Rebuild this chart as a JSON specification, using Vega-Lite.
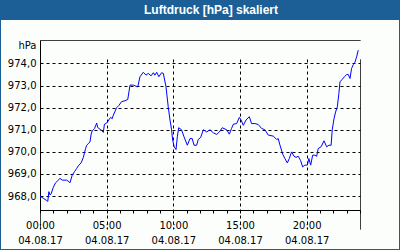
{
  "$schema": "https://vega.github.io/schema/vega-lite/v6.json",
  "width": 398,
  "height": 229,
  "autosize": "none",
  "padding": {"left": 1, "top": 20, "right": 1, "bottom": 1},
  "background": "#1c5f96",
  "title": {
    "text": "Luftdruck [hPa] skaliert",
    "color": "#ffffff",
    "font": "Liberation Sans",
    "fontSize": 12,
    "fontWeight": "bold",
    "anchor": "middle",
    "frame": "group",
    "baseline": "alphabetic",
    "offset": -6,
    "dx": 11
  },
  "config": {
    "view": {"fill": "#fcfefc", "stroke": null},
    "axis": {
      "labelFont": "DejaVu Sans",
      "labelFontSize": 10,
      "labelColor": "#000000",
      "tickColor": "#000000",
      "gridColor": "#000000",
      "gridWidth": 1,
      "domain": true,
      "domainColor": "#000000",
      "domainWidth": 1
    }
  },
  "data": {
    "values": [
      {"t": "2017-08-04T00:00", "p": 968.00},
      {"t": "2017-08-04T00:15", "p": 967.90},
      {"t": "2017-08-04T00:30", "p": 967.80},
      {"t": "2017-08-04T00:35", "p": 967.76},
      {"t": "2017-08-04T00:40", "p": 968.20},
      {"t": "2017-08-04T00:45", "p": 968.05},
      {"t": "2017-08-04T00:50", "p": 968.10},
      {"t": "2017-08-04T01:00", "p": 968.40},
      {"t": "2017-08-04T01:10", "p": 968.60},
      {"t": "2017-08-04T01:20", "p": 968.70},
      {"t": "2017-08-04T01:30", "p": 968.80},
      {"t": "2017-08-04T01:40", "p": 968.72},
      {"t": "2017-08-04T02:00", "p": 968.72},
      {"t": "2017-08-04T02:10", "p": 968.65},
      {"t": "2017-08-04T02:15", "p": 968.60},
      {"t": "2017-08-04T02:25", "p": 968.95},
      {"t": "2017-08-04T02:35", "p": 969.10},
      {"t": "2017-08-04T02:45", "p": 969.25},
      {"t": "2017-08-04T02:55", "p": 969.40},
      {"t": "2017-08-04T03:05", "p": 969.50},
      {"t": "2017-08-04T03:15", "p": 969.75},
      {"t": "2017-08-04T03:25", "p": 970.15},
      {"t": "2017-08-04T03:30", "p": 970.30},
      {"t": "2017-08-04T03:40", "p": 970.40},
      {"t": "2017-08-04T03:45", "p": 970.45},
      {"t": "2017-08-04T03:50", "p": 970.80},
      {"t": "2017-08-04T03:55", "p": 970.95},
      {"t": "2017-08-04T04:05", "p": 971.05},
      {"t": "2017-08-04T04:15", "p": 971.30},
      {"t": "2017-08-04T04:20", "p": 971.10},
      {"t": "2017-08-04T04:30", "p": 971.02},
      {"t": "2017-08-04T04:40", "p": 970.95},
      {"t": "2017-08-04T04:45", "p": 970.88},
      {"t": "2017-08-04T04:50", "p": 971.25},
      {"t": "2017-08-04T05:00", "p": 971.30},
      {"t": "2017-08-04T05:10", "p": 971.45},
      {"t": "2017-08-04T05:18", "p": 971.56},
      {"t": "2017-08-04T05:25", "p": 971.50},
      {"t": "2017-08-04T05:30", "p": 971.66},
      {"t": "2017-08-04T05:45", "p": 972.00},
      {"t": "2017-08-04T05:55", "p": 972.10},
      {"t": "2017-08-04T06:07", "p": 972.27},
      {"t": "2017-08-04T06:22", "p": 972.31},
      {"t": "2017-08-04T06:35", "p": 972.37},
      {"t": "2017-08-04T06:45", "p": 973.02},
      {"t": "2017-08-04T07:00", "p": 973.02},
      {"t": "2017-08-04T07:20", "p": 972.94},
      {"t": "2017-08-04T07:30", "p": 973.40},
      {"t": "2017-08-04T07:45", "p": 973.60},
      {"t": "2017-08-04T07:57", "p": 973.47},
      {"t": "2017-08-04T08:07", "p": 973.55},
      {"t": "2017-08-04T08:20", "p": 973.44},
      {"t": "2017-08-04T08:30", "p": 973.58},
      {"t": "2017-08-04T08:37", "p": 973.47},
      {"t": "2017-08-04T08:45", "p": 973.60},
      {"t": "2017-08-04T08:55", "p": 973.40},
      {"t": "2017-08-04T09:07", "p": 973.58},
      {"t": "2017-08-04T09:15", "p": 973.55},
      {"t": "2017-08-04T09:27", "p": 972.94},
      {"t": "2017-08-04T09:37", "p": 972.04},
      {"t": "2017-08-04T09:45", "p": 971.44},
      {"t": "2017-08-04T09:52", "p": 971.00},
      {"t": "2017-08-04T09:57", "p": 970.53},
      {"t": "2017-08-04T10:04", "p": 970.23},
      {"t": "2017-08-04T10:12", "p": 970.10},
      {"t": "2017-08-04T10:18", "p": 970.68},
      {"t": "2017-08-04T10:24", "p": 971.09},
      {"t": "2017-08-04T10:37", "p": 971.00},
      {"t": "2017-08-04T10:48", "p": 970.68},
      {"t": "2017-08-04T11:03", "p": 970.30},
      {"t": "2017-08-04T11:15", "p": 970.60},
      {"t": "2017-08-04T11:25", "p": 970.60},
      {"t": "2017-08-04T11:33", "p": 970.30},
      {"t": "2017-08-04T11:45", "p": 970.30},
      {"t": "2017-08-04T11:52", "p": 970.56},
      {"t": "2017-08-04T12:03", "p": 970.65},
      {"t": "2017-08-04T12:15", "p": 971.00},
      {"t": "2017-08-04T12:30", "p": 970.90},
      {"t": "2017-08-04T12:45", "p": 971.00},
      {"t": "2017-08-04T13:00", "p": 970.86},
      {"t": "2017-08-04T13:15", "p": 970.79},
      {"t": "2017-08-04T13:27", "p": 970.90},
      {"t": "2017-08-04T13:40", "p": 971.09},
      {"t": "2017-08-04T14:00", "p": 971.00},
      {"t": "2017-08-04T14:12", "p": 970.80},
      {"t": "2017-08-04T14:22", "p": 971.06},
      {"t": "2017-08-04T14:30", "p": 971.25},
      {"t": "2017-08-04T14:45", "p": 971.28},
      {"t": "2017-08-04T14:57", "p": 971.56},
      {"t": "2017-08-04T15:05", "p": 971.44},
      {"t": "2017-08-04T15:15", "p": 971.20},
      {"t": "2017-08-04T15:27", "p": 971.44},
      {"t": "2017-08-04T15:42", "p": 971.59},
      {"t": "2017-08-04T15:52", "p": 971.28},
      {"t": "2017-08-04T16:07", "p": 971.28},
      {"t": "2017-08-04T16:22", "p": 971.24},
      {"t": "2017-08-04T16:37", "p": 971.06},
      {"t": "2017-08-04T16:52", "p": 971.00},
      {"t": "2017-08-04T17:07", "p": 970.76},
      {"t": "2017-08-04T17:30", "p": 970.71},
      {"t": "2017-08-04T17:45", "p": 970.56},
      {"t": "2017-08-04T17:52", "p": 970.60},
      {"t": "2017-08-04T18:00", "p": 970.30},
      {"t": "2017-08-04T18:12", "p": 969.90},
      {"t": "2017-08-04T18:22", "p": 969.70},
      {"t": "2017-08-04T18:33", "p": 969.50},
      {"t": "2017-08-04T18:42", "p": 969.70},
      {"t": "2017-08-04T18:52", "p": 970.00},
      {"t": "2017-08-04T19:03", "p": 969.80},
      {"t": "2017-08-04T19:12", "p": 969.75},
      {"t": "2017-08-04T19:22", "p": 969.80},
      {"t": "2017-08-04T19:33", "p": 969.60},
      {"t": "2017-08-04T19:42", "p": 969.32},
      {"t": "2017-08-04T19:52", "p": 969.40},
      {"t": "2017-08-04T20:03", "p": 969.40},
      {"t": "2017-08-04T20:10", "p": 969.70},
      {"t": "2017-08-04T20:18", "p": 969.40},
      {"t": "2017-08-04T20:27", "p": 969.85},
      {"t": "2017-08-04T20:37", "p": 969.85},
      {"t": "2017-08-04T20:45", "p": 969.80},
      {"t": "2017-08-04T20:52", "p": 970.15},
      {"t": "2017-08-04T21:05", "p": 970.23},
      {"t": "2017-08-04T21:18", "p": 970.50},
      {"t": "2017-08-04T21:30", "p": 970.23},
      {"t": "2017-08-04T21:40", "p": 970.30},
      {"t": "2017-08-04T21:50", "p": 970.30},
      {"t": "2017-08-04T21:55", "p": 971.00},
      {"t": "2017-08-04T22:03", "p": 971.50},
      {"t": "2017-08-04T22:10", "p": 971.80},
      {"t": "2017-08-04T22:18", "p": 972.04},
      {"t": "2017-08-04T22:25", "p": 972.64},
      {"t": "2017-08-04T22:30", "p": 973.17},
      {"t": "2017-08-04T22:40", "p": 973.28},
      {"t": "2017-08-04T22:50", "p": 973.40},
      {"t": "2017-08-04T23:00", "p": 973.50},
      {"t": "2017-08-04T23:07", "p": 973.50},
      {"t": "2017-08-04T23:15", "p": 973.32},
      {"t": "2017-08-04T23:22", "p": 973.77},
      {"t": "2017-08-04T23:30", "p": 973.95},
      {"t": "2017-08-04T23:37", "p": 974.05},
      {"t": "2017-08-04T23:45", "p": 974.30},
      {"t": "2017-08-04T23:52", "p": 974.60}
    ]
  },
  "mark": {"type": "line", "color": "#0000ff", "strokeWidth": 1},
  "encoding": {
    "x": {
      "field": "t",
      "type": "temporal",
      "scale": {
        "domain": [
          {"year": 2017, "month": 8, "date": 4, "hours": 0},
          {"year": 2017, "month": 8, "date": 5, "hours": 0}
        ],
        "range": [39, 359],
        "nice": false
      },
      "axis": {
        "title": null,
        "grid": true,
        "gridOpacity": {"condition": {"test": "hours(datum.value) % 5 == 0", "value": 1}, "value": 0},
        "gridDash": {"condition": {"test": "hours(datum.value) == 0", "value": [1, 0]}, "value": [3, 3]},
        "values": [
          {"year": 2017, "month": 8, "date": 4, "hours": 0},
          {"year": 2017, "month": 8, "date": 4, "hours": 1},
          {"year": 2017, "month": 8, "date": 4, "hours": 2},
          {"year": 2017, "month": 8, "date": 4, "hours": 3},
          {"year": 2017, "month": 8, "date": 4, "hours": 4},
          {"year": 2017, "month": 8, "date": 4, "hours": 5},
          {"year": 2017, "month": 8, "date": 4, "hours": 6},
          {"year": 2017, "month": 8, "date": 4, "hours": 7},
          {"year": 2017, "month": 8, "date": 4, "hours": 8},
          {"year": 2017, "month": 8, "date": 4, "hours": 9},
          {"year": 2017, "month": 8, "date": 4, "hours": 10},
          {"year": 2017, "month": 8, "date": 4, "hours": 11},
          {"year": 2017, "month": 8, "date": 4, "hours": 12},
          {"year": 2017, "month": 8, "date": 4, "hours": 13},
          {"year": 2017, "month": 8, "date": 4, "hours": 14},
          {"year": 2017, "month": 8, "date": 4, "hours": 15},
          {"year": 2017, "month": 8, "date": 4, "hours": 16},
          {"year": 2017, "month": 8, "date": 4, "hours": 17},
          {"year": 2017, "month": 8, "date": 4, "hours": 18},
          {"year": 2017, "month": 8, "date": 4, "hours": 19},
          {"year": 2017, "month": 8, "date": 4, "hours": 20},
          {"year": 2017, "month": 8, "date": 4, "hours": 21},
          {"year": 2017, "month": 8, "date": 4, "hours": 22},
          {"year": 2017, "month": 8, "date": 4, "hours": 23},
          {"year": 2017, "month": 8, "date": 5, "hours": 0}
        ],
        "ticks": true,
        "tickSize": 3,
        "offset": -39,
        "labelPadding": 7,
        "labelBaseline": "top",
        "labelLineHeight": 15,
        "labelOverlap": false,
        "labelFlush": false,
        "labelBound": false,
        "labelAlign": "center",
        "labelExpr": "hours(datum.value) % 5 == 0 && date(datum.value) == 4 ? [timeFormat(datum.value, '%H:%M'), timeFormat(datum.value, '%d.%m.%y')] : ''"
      }
    },
    "y": {
      "field": "p",
      "type": "quantitative",
      "scale": {"domain": [967.37, 975.06], "range": [190, 20], "nice": false, "zero": false},
      "axis": {
        "values": [968, 969, 970, 971, 972, 973, 974, 974.8, 975.05],
        "grid": true,
        "gridOpacity": {"condition": {"test": "datum.value > 974.5 && datum.value < 975", "value": 0}, "value": 1},
        "gridDash": {"condition": {"test": "datum.value > 975", "value": [1, 0]}, "value": [3, 3]},
        "ticks": false,
        "offset": -39,
        "labelPadding": 4,
        "labelBaseline": "middle",
        "labelOverlap": false,
        "labelBound": false,
        "labelFlush": false,
        "labelExpr": "datum.value > 975 ? '' : datum.value > 974.5 ? 'hPa' : replace(format(datum.value, '.1f'), '.', ',')",
        "title": null
      }
    }
  }
}
